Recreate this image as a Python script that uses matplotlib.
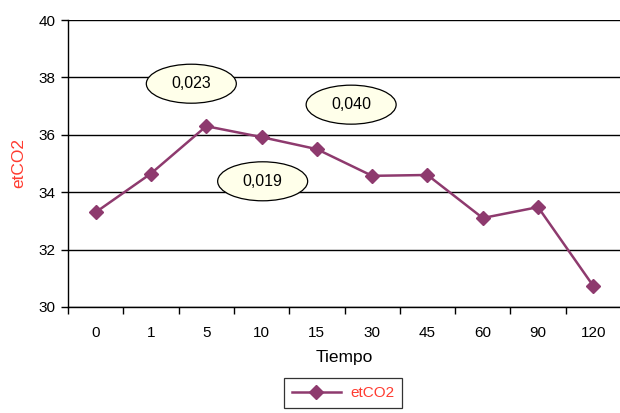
import matplotlib
matplotlib.use("Agg")
import matplotlib.pyplot as plt
from matplotlib.patches import Ellipse
from matplotlib.lines import Line2D

# Data
tiempo = ["0", "1", "5", "10", "15", "30", "45", "60", "90", "120"]
etco2 = [33.3, 34.65, 36.3, 35.92, 35.5, 34.57, 34.6, 33.1, 33.48, 30.73]

# Annotation bubbles: label, x (category position), y (value)
bubble_labels = ["0,023", "0,040", "0,019"]
bubble_x = [1.73, 4.62, 3.02]
bubble_y = [37.78, 37.05, 34.38]

line_color = "#8E3A6E"
label_red = "#FF3B30"

plt.rcParams["font.family"] = ["Liberation Sans", "DejaVu Sans"]

fig = plt.figure(figsize=(6.2, 4.13), dpi=100)
ax = fig.add_axes([68 / 620, 106 / 413, 553 / 620, 287 / 413])

x = list(range(len(tiempo)))
ax.plot(x, etco2, color=line_color, linewidth=1.8, marker="D",
        markersize=7.5, markerfacecolor=line_color, markeredgecolor=line_color,
        zorder=3)

ax.set_xlim(-0.5, len(tiempo) - 0.5)
ax.set_ylim(30, 40)
ax.set_yticks([30, 32, 34, 36, 38, 40])
ax.set_xticks(x)
ax.set_xticklabels(tiempo)
ax.set_xticks([i - 0.5 for i in range(len(tiempo))], minor=True)
ax.tick_params(axis="x", which="major", length=0, labelsize=11, pad=14)
ax.tick_params(axis="x", which="minor", length=5, width=1, direction="out")
ax.tick_params(axis="y", length=5, width=1, direction="out", labelsize=11, pad=4)

ax.yaxis.grid(True, color="black", linewidth=1)
ax.set_axisbelow(True)
for side in ("top", "right"):
    ax.spines[side].set_visible(False)
ax.spines["left"].set_linewidth(1)
ax.spines["bottom"].set_linewidth(1)

ax.set_xlabel("Tiempo", fontsize=12.5, labelpad=7)
ax.set_ylabel("etCO2", fontsize=12.5, color=label_red, labelpad=9)

# Elliptical callouts
px_x = 55.3  # pixels per category
px_y = 28.7  # pixels per unit
for lab, bx, by in zip(bubble_labels, bubble_x, bubble_y):
    e = Ellipse((bx, by), width=90 / px_x, height=39 / px_y,
                facecolor="#FFFFEA", edgecolor="black", linewidth=0.9,
                zorder=4)
    ax.add_patch(e)
    ax.text(bx, by, lab, ha="center", va="center", fontsize=11.5, zorder=5)

# Legend
handle = Line2D([], [], color=line_color, linewidth=1.8, marker="D",
                markersize=7.5, markerfacecolor=line_color,
                markeredgecolor=line_color)
leg = fig.legend([handle], ["etCO2"], loc="center",
                 bbox_to_anchor=(343 / 620, 1 - 393 / 413), frameon=True,
                 fancybox=False, edgecolor="black", fontsize=11,
                 handlelength=3.2, borderpad=0.55, handletextpad=0.6)
leg.get_frame().set_linewidth(0.9)
for t in leg.get_texts():
    t.set_color(label_red)

fig.savefig("out.png", dpi=100)
